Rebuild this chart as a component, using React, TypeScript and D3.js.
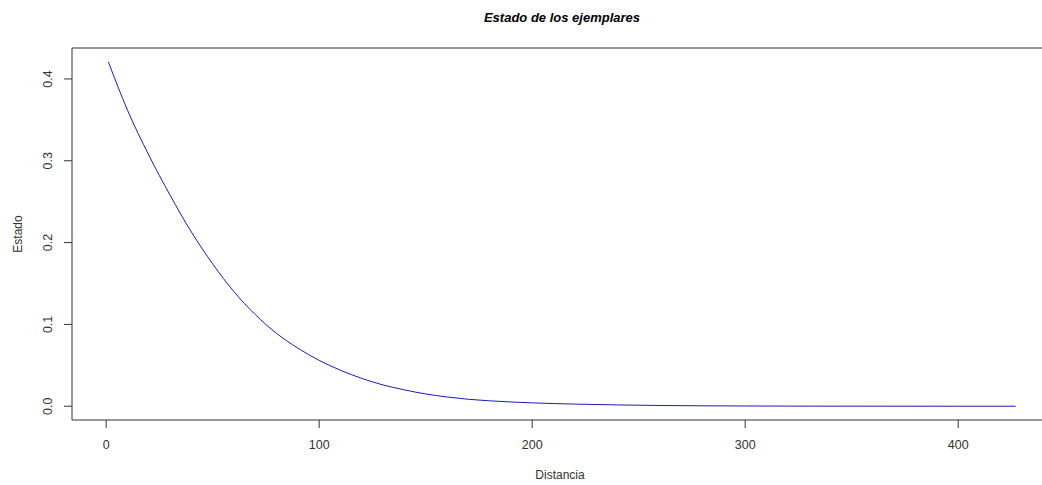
import React from "react";
import * as d3 from "d3";

const distancia: number[] = [1, 10, 20, 30, 40, 50, 60, 70, 80, 90, 100, 110, 120, 130, 140, 150, 160, 170, 180, 190, 200, 220, 240, 260, 280, 300, 330, 360, 400, 427];
const estado: number[] = [0.421, 0.362, 0.307, 0.258, 0.213, 0.174, 0.140, 0.112, 0.089, 0.071, 0.056, 0.044, 0.034, 0.026, 0.020, 0.015, 0.0113, 0.0085, 0.0066, 0.0052, 0.0041, 0.0026, 0.0016, 0.0009, 0.0005, 0.0003, 0.0001, 0.00005, 0, 0];
const xTicks: number[] = [0, 100, 200, 300, 400];
const yTicks: number[] = [0, 0.1, 0.2, 0.3, 0.4];
const titleText = "Estado de los ejemplares";
const xLabel = "Distancia";
const yLabel = "Estado";

const W = 1042;
const H = 485;
const left = 72;
const right = 1052;
const top = 48;
const bottom = 420;

export default function App() {
  const xMin = d3.min(distancia)!;
  const xMax = d3.max(distancia)!;
  const yMin = d3.min(estado)!;
  const yMax = d3.max(estado)!;
  const xPad = (xMax - xMin) * 0.04;
  const yPad = (yMax - yMin) * 0.04;
  const x = d3.scaleLinear().domain([xMin - xPad, xMax + xPad]).range([left, right]);
  const y = d3.scaleLinear().domain([yMin - yPad, yMax + yPad]).range([bottom, top]);
  const line = d3
    .line<number>()
    .x((_, i) => x(distancia[i]))
    .y((d) => y(d))
    .curve(d3.curveMonotoneX);
  const font = "'Liberation Sans', Arial, sans-serif";
  return (
    <svg
      width={W}
      height={H}
      style={{ position: "absolute", left: 0, top: 0, background: "#fff", overflow: "hidden" }}
      fontFamily={font}
    >
      <rect x={0} y={0} width={W} height={H} fill="#fff" />
      <text x={(left + right) / 2} y={22} textAnchor="middle" fontSize={13} fontWeight="bold" fontStyle="italic" fill="#000">
        {titleText}
      </text>
      <line x1={left} x2={W + 20} y1={top} y2={top} stroke="#333" strokeWidth={1} />
      <line x1={left} x2={W + 20} y1={bottom} y2={bottom} stroke="#333" strokeWidth={1} />
      <line x1={left} x2={left} y1={top} y2={bottom} stroke="#333" strokeWidth={1} />
      <path d={line(estado) || ""} fill="none" stroke="#1c1cb4" strokeWidth={1} />
      {xTicks.map((t) => (
        <g key={"x" + t}>
          <line x1={x(t)} x2={x(t)} y1={bottom} y2={bottom + 8} stroke="#333" />
          <text x={x(t)} y={449} textAnchor="middle" fontSize={12.5} fill="#333">
            {t}
          </text>
        </g>
      ))}
      {yTicks.map((t) => (
        <g key={"y" + t}>
          <line x1={left} x2={left - 8} y1={y(t)} y2={y(t)} stroke="#333" />
          <text
            transform={`translate(${52},${y(t)}) rotate(-90)`}
            textAnchor="middle"
            fontSize={12.5}
            fill="#333"
          >
            {t.toFixed(1)}
          </text>
        </g>
      ))}
      <text x={(left + right) / 2 - 2} y={479} textAnchor="middle" fontSize={12} fill="#333">
        {xLabel}
      </text>
      <text transform={`translate(${22},${(top + bottom) / 2}) rotate(-90)`} textAnchor="middle" fontSize={12} fill="#333">
        {yLabel}
      </text>
    </svg>
  );
}
